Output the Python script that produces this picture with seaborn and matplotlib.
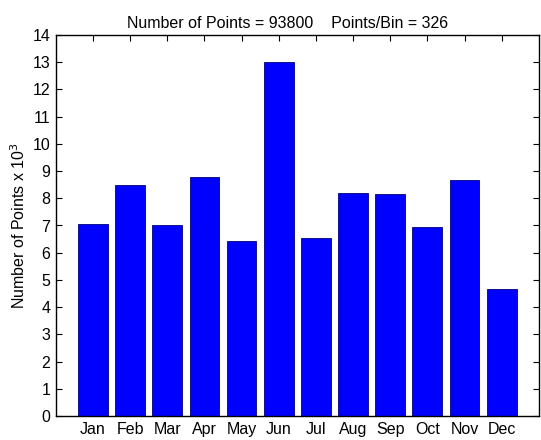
import matplotlib
matplotlib.use("Agg")
import matplotlib.pyplot as plt
import seaborn as sns
import pandas as pd

# Monthly point counts (thousands)
months = ["Jan", "Feb", "Mar", "Apr", "May", "Jun", "Jul", "Aug", "Sep", "Oct", "Nov", "Dec"]
counts = [7.05, 8.48, 7.00, 8.80, 6.42, 13.02, 6.53, 8.21, 8.14, 6.95, 8.66, 4.66]
yticks = list(range(0, 15))

title = "Number of Points = 93800    Points/Bin = 326"

sns.set_theme(style="ticks")
plt.rcParams["font.family"] = ["Liberation Sans", "DejaVu Sans"]
plt.rcParams["text.color"] = "black"
plt.rcParams["axes.labelcolor"] = "black"

df = pd.DataFrame({"Month": months, "Count": counts})

fig = plt.figure(figsize=(5.41, 4.40), dpi=100)
ax = fig.add_axes([0.103, 0.0545, 0.893, 0.866])

sns.barplot(data=df, x="Month", y="Count", color="#0000ff", saturation=1,
            width=0.8, edgecolor="#00007a", linewidth=0.6, ax=ax)

ax.set_xlim(-1, 12)
ax.set_ylim(0, 14)
ax.set_yticks(yticks)
ax.set_xlabel("")
ax.set_ylabel(r"Number of Points x 10$^3$", fontsize=11.5, labelpad=3)
# title sits a little left of the axes centre in the original
ax.set_title(title, fontsize=11.5, pad=5, x=0.479)

ax.tick_params(direction="in", top=True, right=True, length=4, width=0.8,
               labelsize=11.5, colors="black", pad=4)
for s in ax.spines.values():
    s.set_visible(True)
    s.set_linewidth(1.0)
    s.set_color("black")

fig.savefig("out.png", dpi=100)
